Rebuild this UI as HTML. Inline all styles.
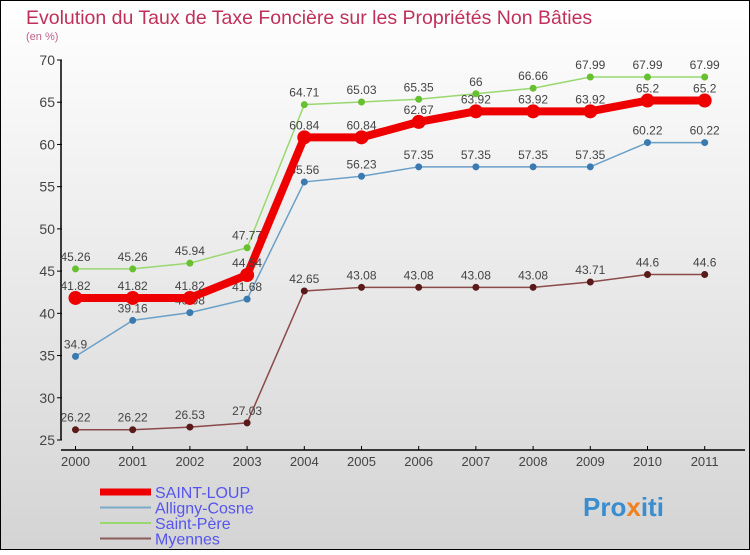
<!DOCTYPE html>
<html><head><meta charset="utf-8"><style>
body{margin:0}
#c{width:750px;height:550px;position:relative;font-family:"Liberation Sans",sans-serif;}
</style></head><body>
<div id="c">
<svg id="s" width="750" height="550" xmlns="http://www.w3.org/2000/svg" font-family="Liberation Sans, sans-serif">
<defs><linearGradient id="bg" x1="0" y1="0" x2="0" y2="1"><stop offset="0" stop-color="#ffffff"/><stop offset="1" stop-color="#d4d4d4"/></linearGradient></defs>
<rect x="0.5" y="0.5" width="749" height="549" fill="url(#bg)" stroke="#000"/>
<text x="26" y="24" font-size="19.5" fill="#c0305a">Evolution du Taux de Taxe Foncière sur les Propriétés Non Bâties</text>
<text x="26" y="40" font-size="11" fill="#c0608a">(en %)</text>
<g id="axes"></g><g id="series"></g><g id="legend"></g>
<text x="583" y="516" font-size="26" font-weight="bold" fill="#3a8ed0">Pro<tspan fill="#f08020">x</tspan>iti</text>
</svg></div>
<script>
const years=["2000","2001","2002","2003","2004","2005","2006","2007","2008","2009","2010","2011"];
const yTicks=[25,30,35,40,45,50,55,60,65,70];
const saintLoup=[41.82,41.82,41.82,44.54,60.84,60.84,62.67,63.92,63.92,63.92,65.2,65.2];
const alligny=[34.9,39.16,40.08,41.68,55.56,56.23,57.35,57.35,57.35,57.35,60.22,60.22];
const saintPere=[45.26,45.26,45.94,47.77,64.71,65.03,65.35,66,66.66,67.99,67.99,67.99];
const myennes=[26.22,26.22,26.53,27.03,42.65,43.08,43.08,43.08,43.08,43.71,44.6,44.6];
const NS="http://www.w3.org/2000/svg";
const X=i=>75.5+i*57.2;
const Y=v=>60+(70-v)*(380/45);
function mk(t,a,p){const e=document.createElementNS(NS,t);for(const k in a)e.setAttribute(k,a[k]);p.appendChild(e);return e;}
const ax=document.getElementById('axes');
let l=mk('line',{x1:61,y1:60,x2:61,y2:440,stroke:'#000','stroke-width':1.5},ax);


l=mk('line',{x1:61,y1:450,x2:745,y2:450,stroke:'#000','stroke-width':1.5},ax);


yTicks.forEach(v=>{mk('line',{x1:57,y1:Y(v),x2:62,y2:Y(v),stroke:'#000'},ax);
const t=mk('text',{x:55,y:Y(v)+5,'font-size':14,fill:'#444','text-anchor':'end'},ax);t.textContent=v;

});
years.forEach((y,i)=>{mk('line',{x1:X(i),y1:446,x2:X(i),y2:450,stroke:'#000'},ax);
const t=mk('text',{x:X(i),y:466,'font-size':13,fill:'#444','text-anchor':'middle'},ax);t.textContent=y;

});
const sg=document.getElementById('series');
const defs=[["myennes",myennes,"#8b4a4a","#5a1a1a",1.5,3.5],["alligny-cosne",alligny,"#6aa0c8","#3a7ab0",1.5,3.5],["saint-pere",saintPere,"#99d870","#66c030",1.5,3.5],["saint-loup",saintLoup,"#ee0000","#ee0000",8,7]];
defs.forEach(([n,d,c,dc,w,r])=>{const g=mk('g',{},sg);


mk('polyline',{points:d.map((v,i)=>X(i)+','+Y(v)).join(' '),fill:'none',stroke:c,'stroke-width':w,'stroke-linejoin':'round'},g);
d.forEach((v,i)=>{const p=mk('circle',{cx:X(i),cy:Y(v),r:r,fill:dc},g);


const t=mk('text',{x:X(i),y:Y(v)-8,'font-size':12,fill:'#444','text-anchor':'middle'},g);t.textContent=v;

});});
const lg=document.getElementById('legend');
[["SAINT-LOUP","#ee0000",7],["Alligny-Cosne","#7aaac8",2],["Saint-Père","#99d870",2],["Myennes","#8b5a5a",2]].forEach(([n,c,w],i)=>{const y=492+i*15.5;
const g=mk('g',{},lg);


mk('line',{x1:100,y1:y,x2:151,y2:y,stroke:c,'stroke-width':w},g);
const t=mk('text',{x:155,y:y+6,'font-size':16,fill:'#5555ee'},g);t.textContent=n;});
</script>
</body></html>
